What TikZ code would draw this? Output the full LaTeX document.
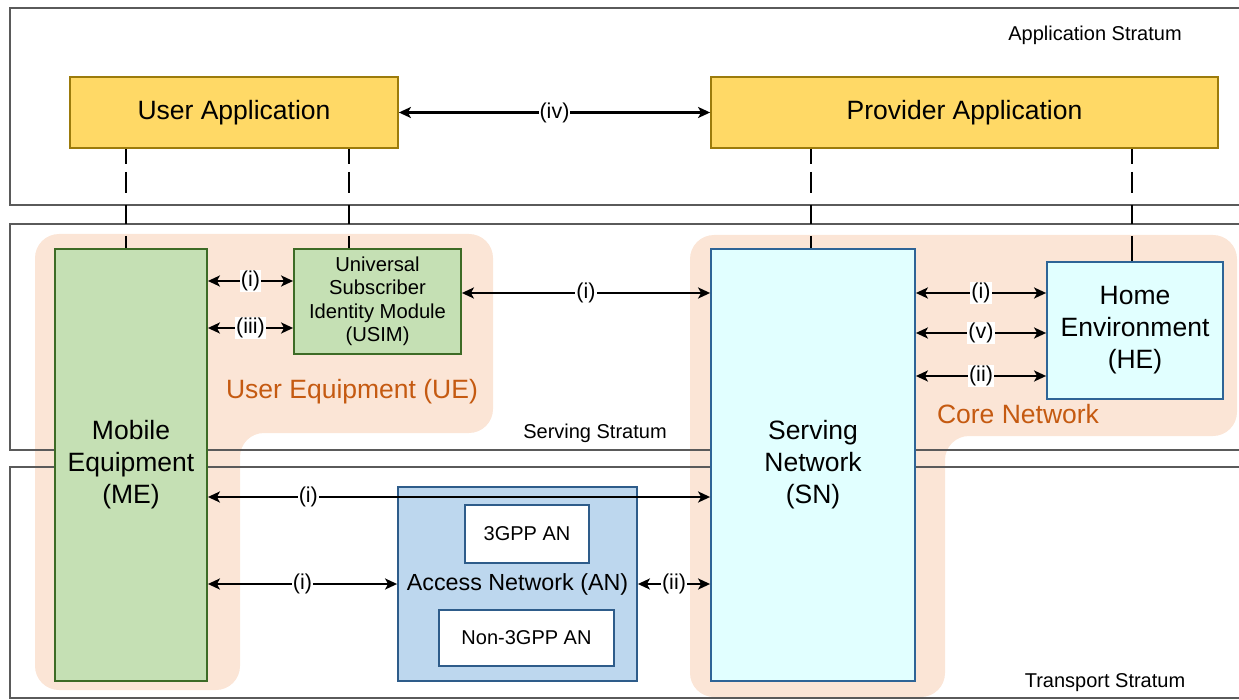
\documentclass[tikz,border=0pt]{standalone}
\usepackage{fontspec}
\setmainfont{Liberation Sans}
\usetikzlibrary{positioning,calc,arrows.meta}

\definecolor{appfill}{HTML}{FFD966}
\definecolor{appline}{HTML}{9C7B0B}
\definecolor{uefill}{HTML}{C5E0B4}
\definecolor{ueline}{HTML}{3D6B26}
\definecolor{snfill}{HTML}{E1FFFF}
\definecolor{snline}{HTML}{2E6496}
\definecolor{anfill}{HTML}{BDD7EE}
\definecolor{anline}{HTML}{2E5C8A}
\definecolor{regfill}{HTML}{FBE5D6}
\definecolor{regtext}{HTML}{C55A11}
\definecolor{strline}{HTML}{5A5A5A}

\begin{document}
\begin{tikzpicture}[x=1pt,y=-1pt]
    \tikzstyle{every node}=[inner sep=0,align=center]
    \tikzstyle{box}=[draw,rectangle,line width=1.8,font=\fontsize{26.5}{32}\selectfont]
    \tikzstyle{appbox}=[box,fill=appfill,draw=appline,minimum height=71]
    \tikzstyle{uebox}=[box,fill=uefill,draw=ueline]
    \tikzstyle{netbox}=[box,fill=snfill,draw=snline]
    \tikzstyle{anbox}=[box,fill=anfill,draw=anline,font=\fontsize{23.3}{28}\selectfont]
    \tikzstyle{subbox}=[box,fill=white,draw=anline,font=\fontsize{20}{24}\selectfont]
    \tikzstyle{stratum}=[draw=strline,line width=1.5]
    \tikzstyle{note}=[font=\fontsize{20}{24}\selectfont]
    \tikzstyle{region}=[fill=regfill,rounded corners=24]
    \tikzstyle{regnote}=[text=regtext,font=\fontsize{26.5}{30}\selectfont]
    \tikzstyle{lbl}=[fill=white,inner sep=1,font=\fontsize{21.5}{24}\selectfont]
    \tikzstyle{link}=[draw,<->,>={Stealth[length=12pt,width=11pt,inset=3pt]},line width=2.2]
    \tikzstyle{dashline}=[line width=2.2,dash pattern=on 15pt off 8pt on 21pt off 12pt on 19pt off 12pt on 40pt off 10pt]
    {
        \useasboundingbox (0,0) rectangle (1239,700);

        \fill[region] (35,234) -- (493,234) -- (493,433) -- (240,433) -- (240,690) -- (35,690) -- cycle;
        \fill[region] (690,235) -- (1237,235) -- (1237,436) -- (945,436) -- (945,697) -- (690,697) -- cycle;

        \draw[stratum] (1239,8) -| (10,205) -- (1239,205);
        \draw[stratum] (1239,224) -| (10,450) -- (1239,450);
        \draw[stratum] (1239,467) -| (10,698) -- (1239,698);

        \node[note] (lapp) at (1095,35) {Application Stratum};
        \node[note] (lserv) at (595,433) {Serving Stratum};
        \node[note] (ltrans) at (1105,683) {Transport Stratum};
        \node[regnote] (lue) at (352,392) {User Equipment (UE)};
        \node[regnote] (lcore) at (1018,414) {Core Network};

        \node[appbox,minimum width=328] (ua) at (234,112.5) {User Application};
        \node[appbox,minimum width=507] (pa) at (964.5,112.5) {Provider Application};
        \node[uebox,minimum width=152,minimum height=432] (me) at (131,465) {Mobile\\Equipment\\(ME)};
        \node[uebox,minimum width=167,minimum height=105,font=\fontsize{20.2}{23.5}\selectfont] (usim) at (377.5,301.5) {Universal\\Subscriber\\Identity Module\\(USIM)};
        \node[netbox,minimum width=204,minimum height=432] (sn) at (813,465) {Serving\\Network\\(SN)};
        \node[netbox,minimum width=176,minimum height=137] (he) at (1135,330.5) {Home\\Environment\\(HE)};
        \node[anbox,minimum width=239,minimum height=194] (an) at (517.5,584) {Access Network (AN)};
        \node[subbox,minimum width=124,minimum height=58] (an3) at (527,534) {3GPP AN};
        \node[subbox,minimum width=175,minimum height=56] (annon) at (526.5,638) {Non-3GPP AN};

        \path (usim.west) ++(0,-20.5) coordinate (u1) ++(0,47) coordinate (u3);
        \path (he.west) ++(0,-37.5) coordinate (h1) ++(0,40) coordinate (h5) ++(0,43) coordinate (h2);
        \path (me.east) ++(0,32) coordinate (m1);

        \draw[dashline] ([xshift=-5]me.north |- ua.south) -- ([xshift=-5]me.north);
        \draw[dashline] ([xshift=-28.5]usim.north |- ua.south) -- ([xshift=-28.5]usim.north);
        \draw[dashline] ([xshift=-2]sn.north |- pa.south) -- ([xshift=-2]sn.north);
        \draw[dashline] ([xshift=-3]he.north |- pa.south) -- ([xshift=-3]he.north);

        \draw[link] (ua) -- node[lbl] {(iv)} (pa);
        \draw[link] (me.east |- u1) -- node[lbl] {(i)} (u1);
        \draw[link] (me.east |- u3) -- node[lbl] {(iii)} (u3);
        \draw[link] (usim.east |- h1) -- node[lbl] {(i)} (sn.west |- h1);
        \draw[link] (sn.east |- h1) -- node[lbl] {(i)} (h1);
        \draw[link] (sn.east |- h5) -- node[lbl] {(v)} (h5);
        \draw[link] (sn.east |- h2) -- node[lbl] {(ii)} (h2);
        \draw[link] (m1) -- node[lbl,pos=0.2] {(i)} (sn.west |- m1);
        \draw[link] (me.east |- an.west) -- node[lbl] {(i)} (an.west);
        \draw[link] (an.east) -- node[lbl] {(ii)} (sn.west |- an.east);
    }
\end{tikzpicture}
\end{document}
